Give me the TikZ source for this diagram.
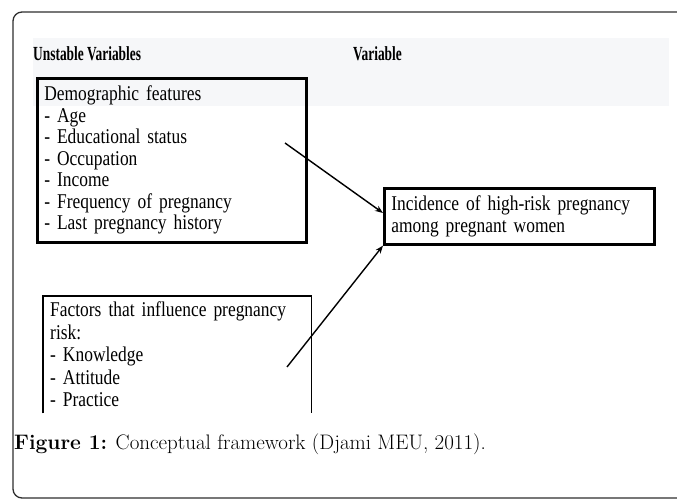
\documentclass[tikz,border=0pt]{standalone}
\usepackage{fontspec}
\newfontfamily\boxfont[FakeStretch=0.83]{Liberation Serif}
\newfontfamily\headfont[FakeStretch=0.67]{Liberation Serif}
\usetikzlibrary{arrows.meta,positioning}
\definecolor{bandgray}{HTML}{F6F7F9}
\definecolor{framegray}{HTML}{2E2E2E}

\begin{document}
\begin{tikzpicture}[
    x=1pt, y=-1pt,
    >={Stealth[length=8pt,width=6pt]},
    varbox/.style={draw, line width=2.6pt, anchor=north west, align=left, inner xsep=7pt, inner ysep=0pt,
        font=\boxfont\fontsize{21}{21.5}\selectfont},
    openbox/.style={anchor=north west, align=left, inner xsep=7pt, inner ysep=0pt,
        font=\boxfont\fontsize{21}{22.5}\selectfont},
    head/.style={anchor=west, inner sep=0pt, font=\headfont\bfseries\fontsize{20}{22}\selectfont},
    link/.style={->, line width=1.4pt}
]
\useasboundingbox (0,0) rectangle (677,500);
\draw[framegray, line width=1.3pt, rounded corners=9pt] (13,12) rectangle (720,498);
\fill[bandgray] (33,38) rectangle (669,106);

\node[head] (h_indep) at (33,54) {Unstable Variables};
\node[head] (h_dep) at (353,54) {Variable};

\node[varbox, text width=255pt, minimum height=164pt] (demo) at (36,77) {Demographic features\\
- Age\\- Educational status\\- Occupation\\- Income\\- Frequency of pregnancy\\- Last pregnancy history};
\node[varbox, text width=256pt, minimum height=56pt] (incid) at (383,187) {Incidence of high-risk pregnancy\\among pregnant women};
\node[openbox, text width=254pt, minimum height=117pt, minimum width=268pt] (factors) at (43,296) {Factors that influence pregnancy\\risk:\\- Knowledge\\- Attitude\\- Practice};
\draw[line width=1.5pt] (factors.south west) |- (factors.north east) -- (factors.south east);

\coordinate (demo_out) at (285,143);
\coordinate (factors_out) at (287,367);
\draw[link] (demo_out) -- (incid.west |- 0,213);
\draw[link] (factors_out) -- (incid.south west);

\node[anchor=west, inner sep=0pt, font=\fontsize{21}{24}\selectfont] (caption) at (14,444)
    {\textbf{Figure 1:} Conceptual framework (Djami MEU, 2011).};
\end{tikzpicture}
\end{document}
